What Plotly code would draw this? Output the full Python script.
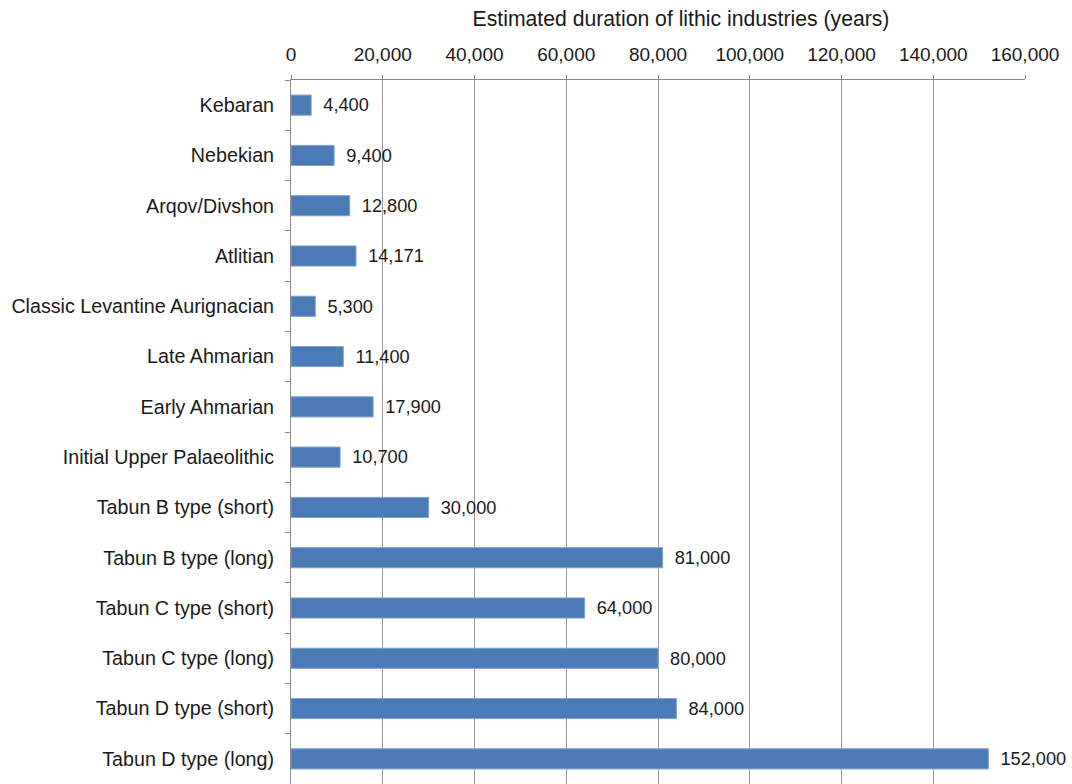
import plotly.graph_objects as go

categories = [
    "Kebaran", "Nebekian", "Arqov/Divshon", "Atlitian",
    "Classic Levantine Aurignacian", "Late Ahmarian", "Early Ahmarian",
    "Initial Upper Palaeolithic", "Tabun B type (short)", "Tabun B type (long)",
    "Tabun C type (short)", "Tabun C type (long)", "Tabun D type (short)",
    "Tabun D type (long)",
]
durations = [4400, 9400, 12800, 14171, 5300, 11400, 17900, 10700,
             30000, 81000, 64000, 80000, 84000, 152000]
x_ticks = [0, 20000, 40000, 60000, 80000, 100000, 120000, 140000, 160000]
x_tick_labels = ["0", "20,000", "40,000", "60,000", "80,000",
                 "100,000", "120,000", "140,000", "160,000"]

font_family = "Liberation Sans, Arial, sans-serif"

fig = go.Figure(go.Bar(
    x=durations, y=categories, orientation="h",
    width=0.4,
    marker=dict(color="#4A7BB7", line=dict(color="#7FA2CE", width=1)),
    text=["\u2002" + f"{v:,}" for v in durations], textposition="outside",
    textfont=dict(family=font_family, size=19, color="#1a1a1a"),
    cliponaxis=False,
))

fig.update_layout(
    width=1072, height=784,
    margin=dict(l=291, r=47, t=80, b=0),
    paper_bgcolor="white", plot_bgcolor="white",
    showlegend=False,
    font=dict(family=font_family, size=19, color="#1a1a1a"),
    title=dict(text="Estimated duration of lithic industries (years)",
               x=681 / 1072, xanchor="center", y=1 - 19 / 784, yanchor="middle",
               font=dict(family=font_family, size=21.2, color="#1a1a1a")),
    bargap=0.6,
)
fig.update_xaxes(
    side="top", range=[0, 160000], tickvals=x_ticks, ticktext=x_tick_labels,
    showgrid=True, gridcolor="#9a9a9a", gridwidth=1,
    showline=True, linecolor="#8a8a8a", linewidth=1,
    ticks="outside", ticklen=4, tickcolor="#8a8a8a",
    ticklabelstandoff=6,
    tickfont=dict(family=font_family, size=19, color="#1a1a1a"),
    zeroline=False,
)
fig.update_yaxes(
    autorange="reversed", categoryorder="array", categoryarray=categories,
    showline=True, linecolor="#8a8a8a", linewidth=1,
    ticks="outside", ticklen=5, tickcolor="#8a8a8a", tickson="boundaries",
    ticklabelstandoff=12,
    tickfont=dict(family=font_family, size=19.7, color="#1a1a1a"),
    showgrid=False,
)

fig.write_html("out.html")
